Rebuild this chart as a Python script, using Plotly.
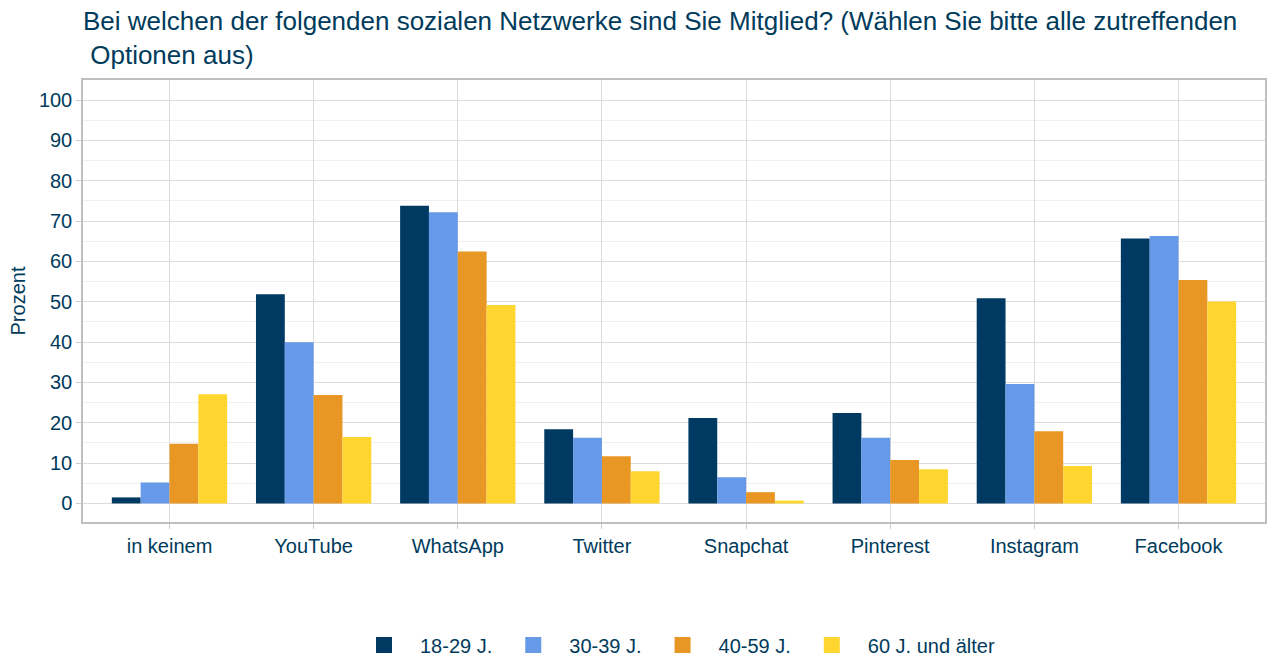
import plotly.graph_objects as go

# Data
netzwerke = ["in keinem", "YouTube", "WhatsApp", "Twitter", "Snapchat",
             "Pinterest", "Instagram", "Facebook"]
gruppen = ["18-29 J.", "30-39 J.", "40-59 J.", "60 J. und älter"]
farben = ["#003a63", "#6699e8", "#e89624", "#ffd530"]

werte_18_29 = [1.5, 51.9, 73.8, 18.4, 21.2, 22.4, 50.9, 65.7]
werte_30_39 = [5.2, 40.0, 72.2, 16.3, 6.5, 16.3, 29.6, 66.3]
werte_40_59 = [14.8, 26.9, 62.5, 11.7, 2.8, 10.8, 17.9, 55.4]
werte_60 = [27.1, 16.5, 49.2, 8.0, 0.7, 8.5, 9.3, 50.1]

alle_werte = [werte_18_29, werte_30_39, werte_40_59, werte_60]

textfarbe = "#003b5c"

fig = go.Figure()
for name, werte, farbe in zip(gruppen, alle_werte, farben):
    fig.add_trace(go.Bar(x=netzwerke, y=werte, name=name, showlegend=False,
                         legendgroup=name,
                         marker=dict(color=farbe, line=dict(width=0))))

# legend entries with bigger square swatches
for name, farbe in zip(gruppen, farben):
    fig.add_trace(go.Scatter(x=[None], y=[None], mode="markers", name=name,
                             legendgroup=name,
                             marker=dict(symbol="square", size=30, color=farbe)))

fig.update_layout(
    width=1272, height=666,
    barmode="group", bargap=0.2, bargroupgap=0,
    plot_bgcolor="white", paper_bgcolor="white",
    font=dict(family="Liberation Sans, Arial, sans-serif", size=20, color=textfarbe),
    title=dict(text="Bei welchen der folgenden sozialen Netzwerke sind Sie Mitglied? "
                    "(Wählen Sie bitte alle zutreffenden<br> Optionen aus)",
               x=0, xref="paper", xanchor="left", y=0.955, yref="container",
               yanchor="top", pad=dict(l=0, t=0),
               font=dict(size=26, color=textfarbe)),
    margin=dict(l=83, r=7, t=80, b=144, autoexpand=False),
    legend=dict(orientation="h", x=0.5, xanchor="center", y=-0.278,
                yanchor="middle", font=dict(size=20), itemwidth=62,
                traceorder="normal"),
)

fig.update_xaxes(range=[-0.6, 7.6], showgrid=True, gridcolor="#dcdcdc", gridwidth=1,
                 ticks="outside", ticklen=5, tickcolor="#cccccc",
                 showline=True, linecolor="#bfbfbf", mirror=True, linewidth=1.5,
                 automargin=False, tickfont=dict(size=20))
fig.update_yaxes(range=[-4.6, 105], dtick=10, showgrid=True, gridcolor="#dcdcdc",
                 gridwidth=1, zeroline=False,
                 minor=dict(dtick=5, showgrid=True, gridcolor="#efefef", gridwidth=1),
                 ticks="outside", ticklen=5, tickcolor="#cccccc",
                 showline=True, linecolor="#bfbfbf", mirror=True, linewidth=1.5,
                 automargin=False,
                 title=dict(text="Prozent", standoff=8, font=dict(size=20)),
                 tickfont=dict(size=20))

fig.write_html("out.html", config={"displayModeBar": False},
               post_script="document.body.style.margin = '0px';")
